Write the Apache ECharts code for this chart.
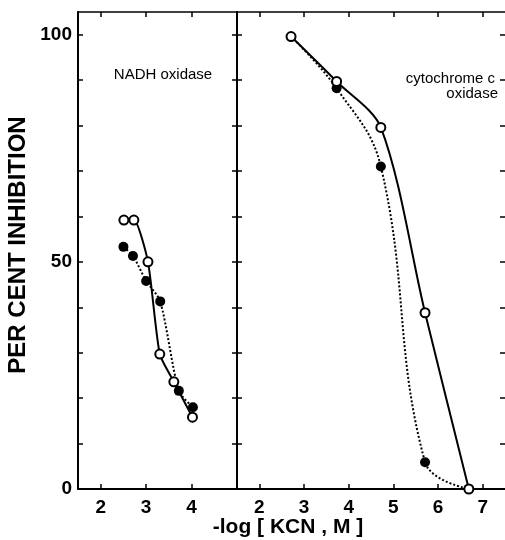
<!DOCTYPE html>
<html>
<head>
<meta charset="utf-8">
<script src="https://cdn.jsdelivr.net/npm/echarts@6/dist/echarts.min.js"></script>
<style>html,body{margin:0;padding:0;background:#fff}#c{width:505px;height:540px}</style>
</head>
<body>
<div id="c"></div>
<script>
// NADH oxidase panel (left)
const nadhOpenX = [2.51, 2.73, 3.04, 3.30, 3.61, 4.02];
const nadhOpenY = [59.2, 59.2, 50.0, 29.7, 23.6, 15.8];
const nadhFilledX = [2.50, 2.71, 3.00, 3.31, 3.72, 4.03];
const nadhFilledY = [53.3, 51.3, 45.8, 41.3, 21.6, 18.0];
// cytochrome c oxidase panel (right)
const cytoOpenX = [2.71, 3.73, 4.72, 5.71, 6.69];
const cytoOpenY = [99.6, 89.7, 79.6, 38.8, 0];
const cytoFilledX = [2.71, 3.73, 4.72, 5.71, 6.69];
const cytoFilledY = [99.6, 88.2, 71.0, 5.9, 0];
// ticks
const leftXTicks = [2, 3, 4];
const rightXTicks = [2, 3, 4, 5, 6, 7];
const yTicks = [0, 10, 20, 30, 40, 50, 60, 70, 80, 90, 100];
const yLabels = [0, 50, 100];
const yTitle = 'PER CENT INHIBITION';
const xTitle = '-log [ KCN , M ]';
const panelLeftLabel = 'NADH oxidase';
const panelRightLabel1 = 'cytochrome c';
const panelRightLabel2 = 'oxidase';

const pairs = (xs, ys) => xs.map((x, i) => [x, ys[i]]);
const FONT = 'Liberation Sans';
const lineCol = '#000';

function xAx(grid, pos, min, max, ticks, labels) {
  return {
    type: 'value', gridIndex: grid, position: pos, min: min, max: max,
    axisLine: {show: true, onZero: false, lineStyle: {color: lineCol, width: pos === 'top' ? 1.5 : 2}},
    axisTick: {show: true, inside: true, length: 5, customValues: ticks, lineStyle: {color: lineCol, width: 1.5}},
    axisLabel: labels ? {show: true, customValues: ticks, margin: 9, color: '#000', fontSize: 19, fontWeight: 'bold', fontFamily: FONT} : {show: false},
    splitLine: {show: false}
  };
}
function yAx(grid, pos, labels, showLine) {
  return {
    type: 'value', gridIndex: grid, position: pos, min: 0, max: 105,
    axisLine: {show: showLine, onZero: false, lineStyle: {color: lineCol, width: 2}},
    axisTick: {show: true, inside: true, length: 5, customValues: yTicks, lineStyle: {color: lineCol, width: 1.5}},
    axisLabel: labels ? {show: true, customValues: yLabels, margin: 6, color: '#000', fontSize: 19, fontWeight: 'bold', fontFamily: FONT} : {show: false},
    splitLine: {show: false}
  };
}

const chart = echarts.init(document.getElementById('c'), null, {renderer: 'canvas'});
chart.setOption({
  animation: false,
  backgroundColor: '#fff',
  grid: [
    {left: 78, top: 12, width: 159, height: 477},
    {left: 237, top: 12, width: 268, height: 477}
  ],
  xAxis: [
    xAx(0, 'bottom', 1.5, 5, leftXTicks, true),
    xAx(0, 'top', 1.5, 5, leftXTicks, false),
    xAx(1, 'bottom', 1.5, 7.5, rightXTicks, true),
    xAx(1, 'top', 1.5, 7.5, rightXTicks, false)
  ],
  yAxis: [
    yAx(0, 'left', true, true),
    yAx(0, 'right', false, true),
    yAx(1, 'left', false, true),
    yAx(1, 'right', false, false)
  ],
  series: [
    {
      type: 'line', xAxisIndex: 0, yAxisIndex: 0, data: pairs(nadhFilledX, nadhFilledY),
      smooth: 0.25, symbol: 'circle', symbolSize: 10,
      lineStyle: {color: '#000', width: 2, type: [2, 2]},
      itemStyle: {color: '#000', borderColor: '#000', borderWidth: 0}, z: 2
    },
    {
      type: 'line', xAxisIndex: 0, yAxisIndex: 0, data: pairs(nadhOpenX, nadhOpenY),
      smooth: 0.2, symbol: 'circle', symbolSize: 9,
      lineStyle: {color: '#000', width: 2},
      itemStyle: {color: '#fff', borderColor: '#000', borderWidth: 2}, z: 3
    },
    {
      type: 'line', xAxisIndex: 2, yAxisIndex: 2,
      data: pairs(cytoFilledX, cytoFilledY).map((p, i) => i === 0 ? {value: p, symbol: 'none'} : p),
      smooth: 0.4, symbol: 'circle', symbolSize: 10,
      lineStyle: {color: '#000', width: 2, type: [2, 2]},
      itemStyle: {color: '#000', borderColor: '#000', borderWidth: 0}, z: 2
    },
    {
      type: 'line', xAxisIndex: 2, yAxisIndex: 2, data: pairs(cytoOpenX, cytoOpenY),
      smooth: 0.3, symbol: 'circle', symbolSize: 9,
      lineStyle: {color: '#000', width: 2},
      itemStyle: {color: '#fff', borderColor: '#000', borderWidth: 2}, z: 3
    }
  ],
  graphic: [
    {type: 'text', x: 18.5, y: 245, rotation: Math.PI / 2,
     style: {text: yTitle, fill: '#000', font: 'bold 24px "Liberation Sans"', textAlign: 'center', textVerticalAlign: 'middle'}},
    {type: 'text', x: 288, y: 527,
     style: {text: xTitle, fill: '#000', font: 'bold 21px "Liberation Sans"', textAlign: 'center', textVerticalAlign: 'middle'}},
    {type: 'text', x: 163, y: 75,
     style: {text: panelLeftLabel, fill: '#000', font: '15px "Liberation Sans"', textAlign: 'center', textVerticalAlign: 'middle'}},
    {type: 'text', x: 495, y: 79,
     style: {text: panelRightLabel1, fill: '#000', font: '15px "Liberation Sans"', textAlign: 'right', textVerticalAlign: 'middle'}},
    {type: 'text', x: 498, y: 94,
     style: {text: panelRightLabel2, fill: '#000', font: '15px "Liberation Sans"', textAlign: 'right', textVerticalAlign: 'middle'}}
  ]
});
</script>
</body>
</html>
